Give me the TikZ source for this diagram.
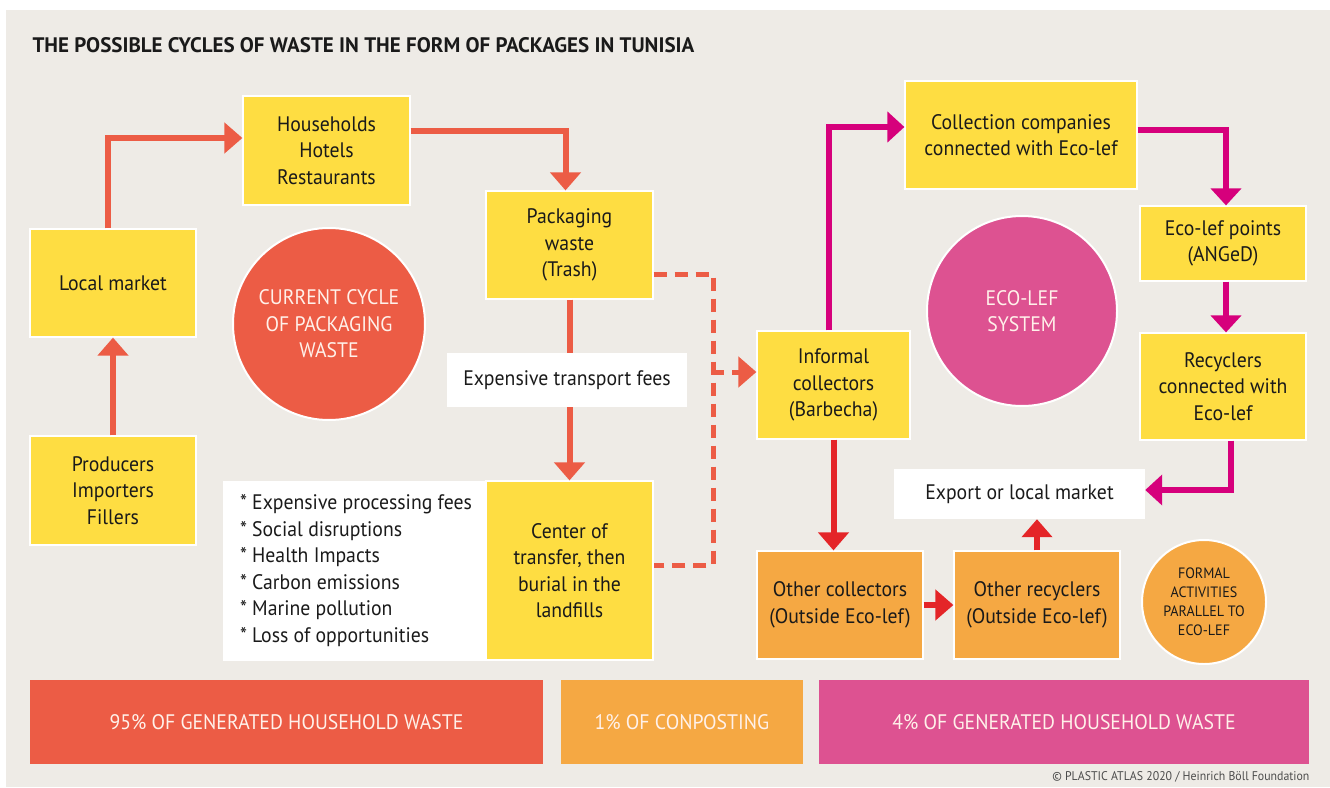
\documentclass[tikz,border=0pt]{standalone}
\usepackage{fontspec}
\setmainfont{PT Sans}[FakeStretch=0.94]
\newfontfamily\titlefont{PT Sans}[FakeStretch=1.0]
\usetikzlibrary{arrows.meta}
\definecolor{bgc}{HTML}{EEEBE6}
\definecolor{yel}{HTML}{FEDD42}
\definecolor{redc}{HTML}{EC5C45}
\definecolor{magc}{HTML}{DD5291}
\definecolor{maga}{HTML}{D6007C}
\definecolor{orc}{HTML}{F5A843}
\definecolor{brred}{HTML}{E42528}
\definecolor{lighttxt}{HTML}{FFF1EA}
\definecolor{txt}{HTML}{1A1A1A}
\begin{document}
\begin{tikzpicture}[x=1pt,y=-1pt,
  every node/.style={font=\fontsize{21}{26.5}\selectfont, text=txt},
  ybox/.style={fill=yel, draw=white, line width=1.2pt, align=center, inner sep=0pt},
  obox/.style={fill=orc, draw=white, line width=1.2pt, align=center, inner sep=0pt},
  wbox/.style={fill=white, draw=none, align=center, inner sep=0pt},
  bigcirc/.style={circle, draw=white, line width=2pt, align=center, text=lighttxt, inner sep=0pt, minimum size=192pt},
  band/.style={draw=none, text=lighttxt, minimum height=84pt, inner sep=0pt, font=\fontsize{21}{26}\selectfont},
  rarrow/.style={draw=redc, line width=6pt, -{Triangle[width=30pt,length=18pt]}},
  marrow/.style={draw=maga, line width=6pt, -{Triangle[width=30pt,length=17pt]}},
  barrow/.style={draw=brred, line width=6pt, -{Triangle[width=30pt,length=18pt]}},
  dline/.style={draw=redc, line width=5pt, dash pattern=on 13pt off 8pt},
]
\useasboundingbox (0,0) rectangle (1330,787);
\fill[bgc] (6,10) rectangle (1330,787);

\node[anchor=west, font=\titlefont\bfseries\fontsize{21}{24}\selectfont] (title) at (29,45) {THE POSSIBLE CYCLES OF WASTE IN THE FORM OF PACKAGES IN TUNISIA};

% left part
\node[ybox, minimum width=166pt, minimum height=108pt] (lm) at (113,283) {Local market};
\node[ybox, minimum width=166pt, minimum height=109pt] (pr) at (113,490.5) {Producers\\Importers\\Fillers};
\node[ybox, minimum width=167pt, minimum height=109pt] (hh) at (326.5,150.5) {Households\\Hotels\\Restaurants};
\node[ybox, minimum width=167pt, minimum height=108pt] (pw) at (569.5,245) {Packaging\\waste\\(Trash)};
\node[ybox, minimum width=167pt, minimum height=179pt] (ct) at (569.5,570.5) {Center of\\transfer, then\\burial in the\\landfills};
\node[wbox, minimum width=263pt, minimum height=180pt] (bl) at (354.5,570.5) {};
\node[anchor=west, align=left, inner sep=0pt] (blt) at ([xshift=17pt]bl.west)
  {* Expensive processing fees\\{}* Social disruptions\\{}* Health Impacts\\{}* Carbon emissions\\{}* Marine pollution\\{}* Loss of opportunities};
\node[bigcirc, fill=redc] (cc1) at (329,324) {CURRENT CYCLE\\OF PACKAGING\\WASTE};

% right part
\node[ybox, minimum width=153pt, minimum height=108pt] (ic) at (833.5,385) {Informal\\collectors\\(Barbecha)};
\node[ybox, minimum width=232pt, minimum height=108pt] (cc) at (1021,135) {Collection companies\\connected with Eco-lef};
\node[ybox, minimum width=166pt, minimum height=75pt] (ep) at (1223,243.5) {Eco-lef points\\(ANGeD)};
\node[ybox, minimum width=166pt, minimum height=107pt] (rc) at (1223,386.5) {Recyclers\\connected with\\Eco-lef};
\node[bigcirc, fill=magc, minimum size=190pt] (es) at (1022,311) {ECO-LEF\\SYSTEM};
\node[wbox, minimum width=251pt, minimum height=50pt] (ex) at (1019.5,494) {Export or local market};
\node[obox, minimum width=166pt, minimum height=108pt] (oc) at (840,605) {Other collectors\\(Outside Eco-lef)};
\node[obox, minimum width=166pt, minimum height=108pt] (orr) at (1037,605) {Other recyclers\\(Outside Eco-lef)};
\node[circle, fill=orc, draw=white, line width=2pt, minimum size=124pt, inner sep=0pt, align=center,
  font=\fontsize{15}{19}\selectfont] (fa) at (1204,602) {FORMAL\\ACTIVITIES\\PARALLEL TO\\ECO-LEF};

% bands
\node[band, fill=redc, minimum width=513pt] (b1) at (286.5,722) {95\% OF GENERATED HOUSEHOLD WASTE};
\node[band, fill=orc, minimum width=242pt] (b2) at (682,722) {1\% OF CONPOSTING};
\node[band, fill=magc, minimum width=490pt] (b3) at (1064,722) {4\% OF GENERATED HOUSEHOLD WASTE};
\node[anchor=east, text=black!70, font=\fontsize{12.6}{14}\selectfont] (cr) at (1313,777) {\textcopyright{} PLASTIC ATLAS 2020 / Heinrich B\"oll Foundation};

% connectors current cycle
\draw[rarrow] (pr.north) -- (lm.south);
\draw[rarrow] ([xshift=-5pt]lm.north) |- ([yshift=12.5pt]hh.west);
\draw[rarrow] ([yshift=19.5pt]hh.east) -| ([xshift=-4pt]pw.north);
\draw[rarrow] (pw.south) -- (ct.north);
\node[wbox, minimum width=240pt, minimum height=54pt] (tf) at (567,380) {Expensive transport fees};

\coordinate (dx) at (713,372);
\draw[dline] ([yshift=-29pt]pw.east) -| (dx) |- ([yshift=5.5pt]ct.east);
\draw[dline, -{Triangle[width=30pt,length=18pt]}] ([xshift=-2pt]dx) -- (dx -| ic.west);

% eco-lef connectors
\draw[marrow] ([xshift=-5pt]ic.north) |- ([yshift=8pt]cc.west);
\draw[marrow] ([yshift=5pt]cc.east) -| ([xshift=3pt]ep.north);
\draw[marrow] ([xshift=3pt]ep.south) -- ([xshift=3pt]rc.north);
\draw[marrow] ([xshift=8pt]rc.south) |- ([yshift=4pt]ex.east);

% outside connectors
\draw[barrow] (ic.south) -- (ic.south |- oc.north);
\draw[barrow] (oc.east) -- (orr.west);
\draw[barrow] (orr.north) -- (orr.north |- ex.south);
\end{tikzpicture}
\end{document}
